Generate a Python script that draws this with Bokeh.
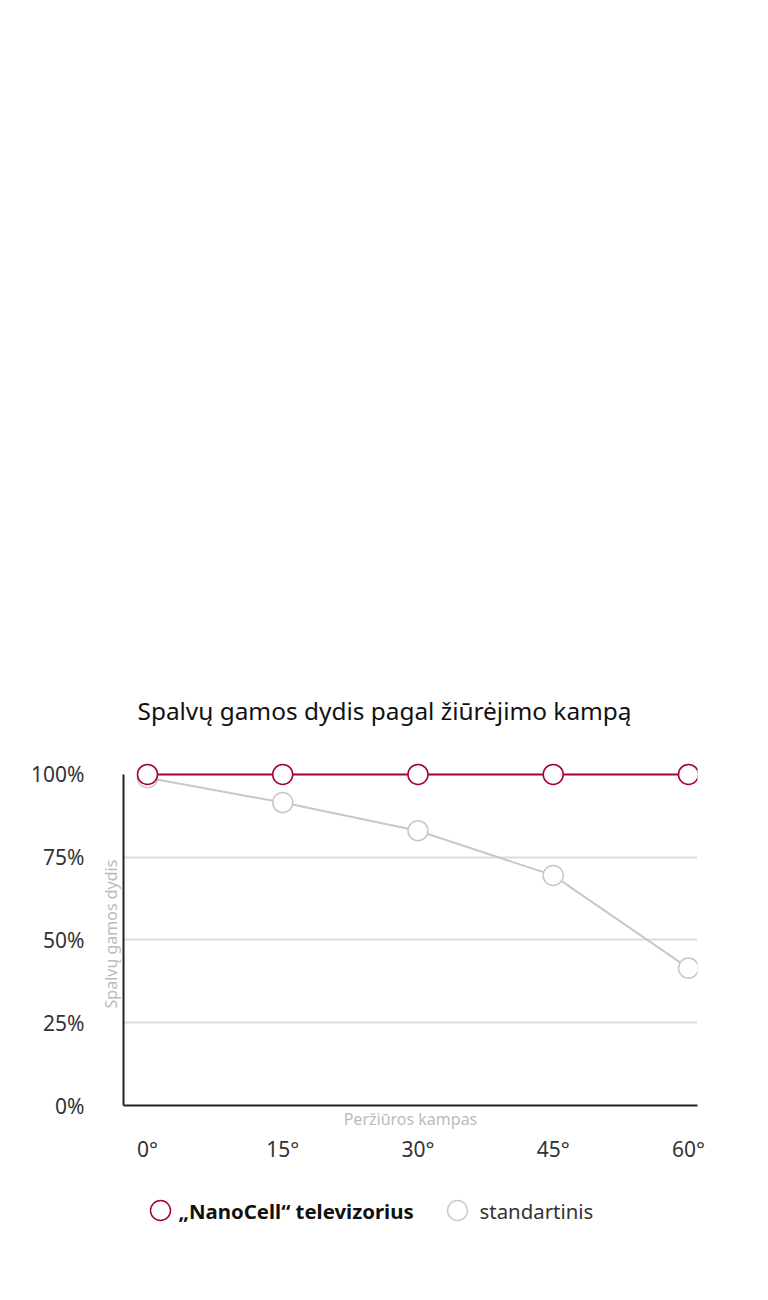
from bokeh.plotting import figure
from bokeh.models import (Range1d, LinearAxis, FixedTicker, ColumnDataSource)
from bokeh.layouts import column
from bokeh.core.properties import value
from bokeh.embed import file_html
from bokeh.resources import INLINE

# ---- data ----
angles = [0, 15, 30, 45, 60]
angle_labels = ["0°", "15°", "30°", "45°", "60°"]
nanocell = [100, 100, 100, 100, 100]
standard = [99, 91.5, 83, 69.5, 41.5]
y_ticks = [0, 25, 50, 75, 100]
y_tick_labels = ["0%", "25%", "50%", "75%", "100%"]
grid_ticks = [25, 50, 75]
series_names = ["„NanoCell“ televizorius", "standartinis"]
title_text = "Spalvų gamos dydis pagal žiūrėjimo kampą"
x_title = "Peržiūros kampas"
y_title = "Spalvų gamos dydis"

RED = "#a50034"
GREY = "#c8c8c8"
FONT = "Noto Sans"

W = 748
BL, BR = 123, 51
p = figure(width=W, height=1180, output_backend="svg", toolbar_location=None,
           x_range=Range1d(-2.66, 61.0), y_range=Range1d(0, 103.6),
           min_border_top=762, min_border_left=BL, min_border_right=BR,
           min_border_bottom=75, x_axis_location=None, y_axis_location=None)
p.outline_line_color = None
p.background_fill_color = "white"
p.border_fill_color = "white"

p.title.text = title_text
p.title.text_font = FONT
p.title.text_font_size = "24.4px"
p.title.text_font_style = "normal"
p.title.text_color = "#111111"
p.title.align = "left"
p.title.offset = 14
p.title.standoff = 71

# grid
p.xgrid.visible = False
p.ygrid.ticker = FixedTicker(ticks=grid_ticks)
p.ygrid.grid_line_color = "#dddddd"
p.ygrid.grid_line_width = 2

# inner y axis: line + title
ya = LinearAxis(ticker=FixedTicker(ticks=[]), bounds=(0, 100))
ya.axis_label = y_title
ya.axis_label_text_font = FONT
ya.axis_label_text_font_size = "16px"
ya.axis_label_text_font_style = "normal"
ya.axis_label_text_color = "#bbbbbb"
ya.axis_label_standoff = 2
ya.axis_line_color = "#222222"
ya.axis_line_width = 2
ya.major_tick_out = 0
ya.major_label_standoff = 0
p.add_layout(ya, "left")

# outer y axis: tick labels
yb = LinearAxis(ticker=FixedTicker(ticks=y_ticks))
yb.major_label_overrides = {t: l for t, l in zip(y_ticks, y_tick_labels)}
yb.axis_line_color = None
yb.major_tick_line_color = None
yb.minor_tick_line_color = None
yb.major_tick_out = 0
yb.major_label_standoff = 12
yb.major_label_text_font = FONT
yb.major_label_text_font_size = "21px"
yb.major_label_text_color = "#333333"
p.add_layout(yb, "left")

# inner x axis: line + title
xa = LinearAxis(ticker=FixedTicker(ticks=[]))
xa.axis_label = x_title
xa.axis_label_text_font = FONT
xa.axis_label_text_font_size = "16px"
xa.axis_label_text_font_style = "normal"
xa.axis_label_text_color = "#bbbbbb"
xa.axis_label_standoff = 2
xa.axis_line_color = "#222222"
xa.axis_line_width = 2
xa.major_tick_out = 0
xa.major_label_standoff = 0
p.add_layout(xa, "below")

# outer x axis: tick labels
xb = LinearAxis(ticker=FixedTicker(ticks=angles))
xb.major_label_overrides = {a: l for a, l in zip(angles, angle_labels)}
xb.axis_line_color = None
xb.major_tick_line_color = None
xb.minor_tick_line_color = None
xb.major_tick_out = 0
xb.major_label_standoff = 2
xb.major_label_text_font = FONT
xb.major_label_text_font_size = "21px"
xb.major_label_text_color = "#333333"
p.add_layout(xb, "below")

src = ColumnDataSource(dict(x=angles, nano=nanocell, std=standard))
p.line("x", "std", source=src, line_color=GREY, line_width=2)
p.scatter("x", "std", source=src, marker="circle", size=20, fill_color="white",
          line_color=GREY, line_width=1.5)
p.line("x", "nano", source=src, line_color=RED, line_width=2)
p.scatter("x", "nano", source=src, marker="circle", size=20, fill_color="white",
          line_color=RED, line_width=1.5)

# ---- legend strip (x in page pixels, frame aligned with main plot) ----
lg = figure(width=W, height=60, output_backend="svg", toolbar_location=None,
            x_range=Range1d(BL, W - BR), y_range=Range1d(0, 60),
            min_border_left=BL, min_border_right=BR, min_border_top=0,
            min_border_bottom=0, x_axis_location=None, y_axis_location=None)
lg.outline_line_color = None
lg.grid.visible = False
mark_x = [160, 457]
text_x = [178, 479]
lsrc = ColumnDataSource(dict(mx=mark_x, y=[30, 30], col=[RED, "#cccccc"]))
lg.scatter("mx", "y", source=lsrc, marker="circle", size=20, fill_color="white",
           line_color="col", line_width=1.5)
lg.text(x=[text_x[0]], y=[30], text=[series_names[0]], text_font=value(FONT),
        text_font_size="20.4px", text_font_style="bold", text_color="#111111",
        text_baseline="middle", text_align="left")
lg.text(x=[text_x[1]], y=[30], text=[series_names[1]], text_font=value(FONT),
        text_font_size="20.4px", text_font_style="normal", text_color="#333333",
        text_baseline="middle", text_align="left")

layout = column(p, lg, spacing=0)
open("out.html", "w").write(file_html(layout, INLINE))
